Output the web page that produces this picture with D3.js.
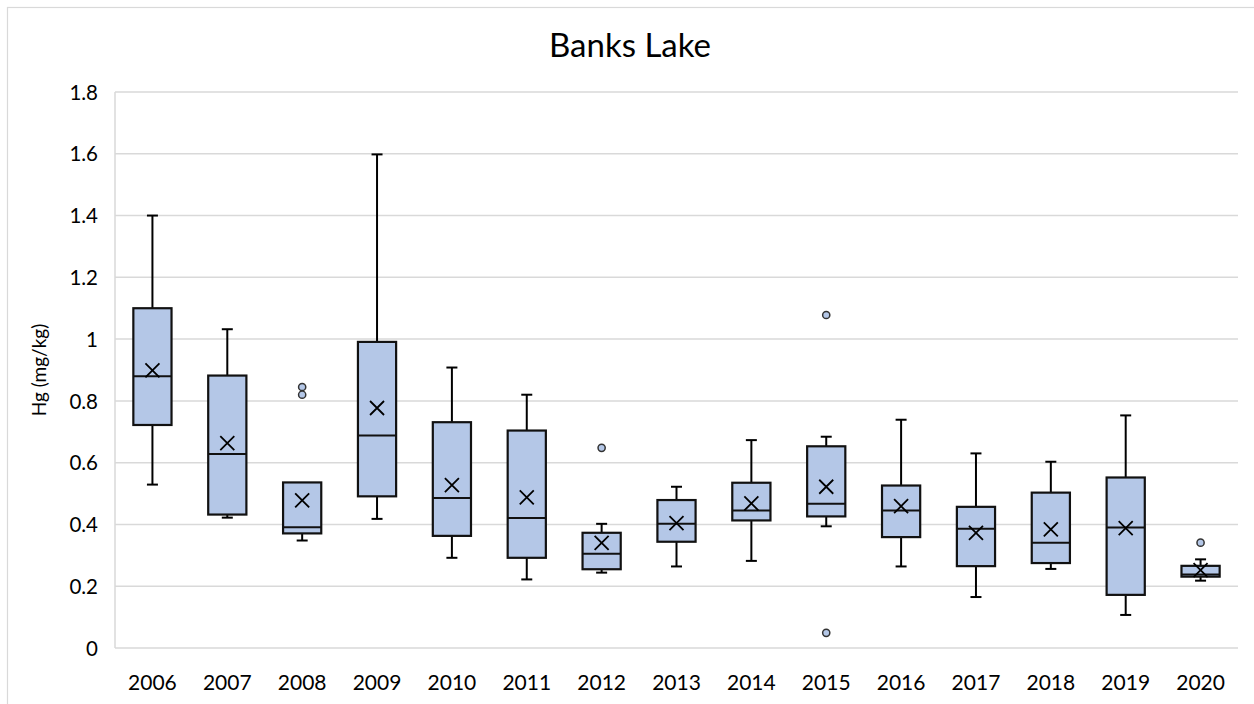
<!DOCTYPE html>
<html>
<head>
<meta charset="utf-8">
<script src="https://cdn.jsdelivr.net/npm/d3@7"></script>
<style>
  body { margin: 0; background: #fff; }
  text { font-family: Lato, 'Open Sans', sans-serif; fill: #000; }
</style>
</head>
<body>
<div id="chart"></div>
<script>
// box plot stats
const years = ['2006', '2007', '2008', '2009', '2010', '2011', '2012', '2013', '2014', '2015', '2016', '2017', '2018', '2019', '2020']
const whiskerLow = [0.529, 0.422, 0.348, 0.418, 0.292, 0.222, 0.244, 0.264, 0.282, 0.394, 0.264, 0.165, 0.256, 0.107, 0.218]
const q1 = [0.722, 0.432, 0.371, 0.491, 0.363, 0.292, 0.255, 0.344, 0.413, 0.426, 0.359, 0.265, 0.275, 0.172, 0.231]
const median = [0.880, 0.628, 0.391, 0.688, 0.486, 0.421, 0.305, 0.402, 0.445, 0.467, 0.445, 0.386, 0.341, 0.390, 0.238]
const q3 = [1.100, 0.882, 0.536, 0.991, 0.731, 0.704, 0.373, 0.479, 0.535, 0.653, 0.526, 0.457, 0.503, 0.552, 0.266]
const whiskerHigh = [1.400, 1.032, 0.536, 1.598, 0.908, 0.820, 0.402, 0.522, 0.673, 0.684, 0.739, 0.630, 0.603, 0.753, 0.287]
const mean = [0.899, 0.663, 0.478, 0.777, 0.527, 0.488, 0.340, 0.404, 0.468, 0.522, 0.459, 0.373, 0.384, 0.388, 0.252]
const outliers = [[], [], [0.845, 0.82], [], [], [], [0.648], [], [], [1.078, 0.049], [], [], [], [], [0.341]]
const yTicks = [0, 0.2, 0.4, 0.6, 0.8, 1, 1.2, 1.4, 1.6, 1.8]

const W = 1254
const H = 704
const margin = { top: 92, right: 16, bottom: 56, left: 115 }
const width = W - margin.left - margin.right
const height = H - margin.top - margin.bottom

const rows = years.map((y, i) => ({
  year: y,
  lo: whiskerLow[i],
  q1: q1[i],
  med: median[i],
  q3: q3[i],
  hi: whiskerHigh[i],
  mean: mean[i],
  out: outliers[i]
}))

const root = d3.select('#chart')
  .append('svg')
  .attr('width', W)
  .attr('height', H)

// outer chart frame
root.append('rect')
  .attr('x', 7.5)
  .attr('y', 7.5)
  .attr('width', W + 10)
  .attr('height', H + 10)
  .attr('fill', 'none')
  .attr('stroke', '#d9d9d9')
  .attr('stroke-width', 1.2)

root.append('text')
  .attr('x', 630)
  .attr('y', 57)
  .attr('text-anchor', 'middle')
  .style('font-size', '33px')
  .text('Banks Lake')

const svg = root.append('g')
  .attr('transform', 'translate(' + margin.left + ',' + margin.top + ')')

const x = d3.scaleBand()
  .domain(years)
  .range([0, width])

const y = d3.scaleLinear()
  .domain([0, 1.8])
  .range([height, 0])

// gridlines
svg.selectAll('.grid')
  .data(yTicks)
  .enter()
  .append('line')
  .attr('class', 'grid')
  .attr('x1', 0)
  .attr('x2', width)
  .attr('y1', d => y(d))
  .attr('y2', d => y(d))
  .attr('stroke', '#d9d9d9')
  .attr('stroke-width', 1.5)

svg.append('line')
  .attr('x1', 0)
  .attr('x2', 0)
  .attr('y1', 0)
  .attr('y2', height)
  .attr('stroke', '#d9d9d9')
  .attr('stroke-width', 1.5)

const yAxis = svg.append('g')
  .call(d3.axisLeft(y).tickValues(yTicks).tickSize(0).tickPadding(17).tickFormat(d3.format('')))
yAxis.select('.domain').remove()
yAxis.selectAll('text').style('font-size', '20.5px').attr('dy', '0.35em')

const xAxis = svg.append('g')
  .attr('transform', 'translate(0,' + height + ')')
  .call(d3.axisBottom(x).tickSize(0).tickPadding(42))
xAxis.select('.domain').remove()
xAxis.selectAll('text').style('font-size', '21px').attr('dy', '0')

svg.append('text')
  .attr('transform', 'translate(-76,' + (height / 2) + ') rotate(-90)')
  .attr('text-anchor', 'middle')
  .attr('dy', '0.35em')
  .style('font-size', '19px')
  .text('Hg (mg/kg)')

const bw = x.bandwidth() * 0.51
const cap = 11
const fill = '#b4c7e7'

const boxes = svg.selectAll('.box')
  .data(rows)
  .enter()
  .append('g')
  .attr('class', 'box')
  .attr('transform', d => 'translate(' + (x(d.year) + x.bandwidth() / 2) + ',0)')

// whiskers
boxes.filter(d => d.hi > d.q3).append('line')
  .attr('y1', d => y(d.q3)).attr('y2', d => y(d.hi))
  .attr('stroke', '#000').attr('stroke-width', 2)
boxes.filter(d => d.hi > d.q3).append('line')
  .attr('x1', -cap / 2).attr('x2', cap / 2)
  .attr('y1', d => y(d.hi)).attr('y2', d => y(d.hi))
  .attr('stroke', '#000').attr('stroke-width', 2)
boxes.append('line')
  .attr('y1', d => y(d.q1)).attr('y2', d => y(d.lo))
  .attr('stroke', '#000').attr('stroke-width', 2)
boxes.append('line')
  .attr('x1', -cap / 2).attr('x2', cap / 2)
  .attr('y1', d => y(d.lo)).attr('y2', d => y(d.lo))
  .attr('stroke', '#000').attr('stroke-width', 2)

boxes.append('rect')
  .attr('x', -bw / 2)
  .attr('width', bw)
  .attr('y', d => y(d.q3))
  .attr('height', d => y(d.q1) - y(d.q3))
  .attr('fill', fill)
  .attr('stroke', '#111')
  .attr('stroke-width', 2.2)

boxes.append('line')
  .attr('x1', -bw / 2).attr('x2', bw / 2)
  .attr('y1', d => y(d.med)).attr('y2', d => y(d.med))
  .attr('stroke', '#111').attr('stroke-width', 2)

// mean markers
const mk = 7
boxes.append('path')
  .attr('d', d => {
    const cy = y(d.mean)
    return 'M' + (-mk) + ',' + (cy - mk) + 'L' + mk + ',' + (cy + mk) +
      'M' + (-mk) + ',' + (cy + mk) + 'L' + mk + ',' + (cy - mk)
  })
  .attr('stroke', '#000')
  .attr('stroke-width', 1.8)
  .attr('fill', 'none')

boxes.selectAll('.out')
  .data(d => d.out)
  .enter()
  .append('circle')
  .attr('class', 'out')
  .attr('cy', d => y(d))
  .attr('r', 3.6)
  .attr('fill', fill)
  .attr('stroke', '#333')
  .attr('stroke-width', 1.5)
</script>
</body>
</html>
